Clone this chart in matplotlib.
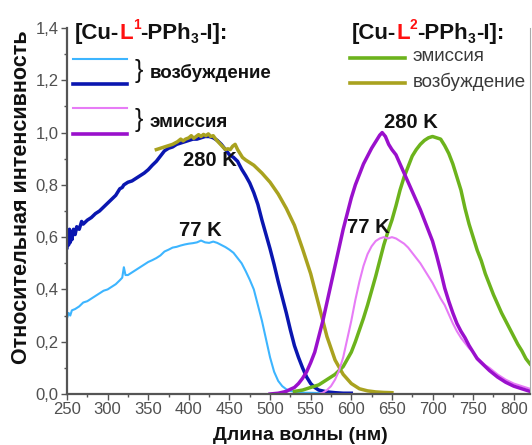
import matplotlib
matplotlib.use("Agg")
import matplotlib.pyplot as plt
from matplotlib.ticker import MultipleLocator, FuncFormatter
from matplotlib.transforms import IdentityTransform

plt.rcParams['font.family'] = ['Liberation Sans', 'DejaVu Sans']

# ---------------- data ----------------
# [Cu-L1-PPh3-I] excitation, 77 K
wl_exc77_L1 = [250, 252, 254, 256, 260, 265, 270, 275, 280, 285, 290, 295, 300, 305, 310, 315, 318,
               320, 322, 325, 330, 335, 340, 345, 350, 355, 360, 365, 370, 375, 380, 385, 390, 395,
               400, 405, 410, 415, 420, 425, 430, 435, 440, 445, 450, 455, 460, 465, 470, 475, 480,
               485, 490, 495, 500, 505, 510, 515, 520, 525, 530, 540, 560, 580, 600]
int_exc77_L1 = [0.29, 0.31, 0.30, 0.32, 0.325, 0.335, 0.35, 0.355, 0.365, 0.375, 0.385, 0.395, 0.40,
                0.41, 0.42, 0.435, 0.445, 0.485, 0.455, 0.455, 0.465, 0.475, 0.485, 0.495, 0.505,
                0.512, 0.52, 0.53, 0.545, 0.552, 0.56, 0.563, 0.568, 0.572, 0.575, 0.577, 0.58,
                0.587, 0.58, 0.578, 0.583, 0.578, 0.57, 0.562, 0.552, 0.54, 0.52, 0.50, 0.47, 0.437,
                0.40, 0.34, 0.28, 0.21, 0.14, 0.085, 0.05, 0.03, 0.018, 0.012, 0.008, 0.005, 0.004,
                0.003, 0.003]

# [Cu-L1-PPh3-I] excitation, 280 K
wl_exc280_L1 = [250, 251, 252, 253, 254, 255, 256, 258, 260, 262, 265, 268, 270, 275, 280, 285, 290,
                295, 300, 305, 310, 315, 318, 320, 325, 330, 335, 340, 345, 350, 355, 360, 365, 370,
                375, 380, 385, 390, 395, 400, 405, 410, 415, 420, 425, 430, 435, 440, 445, 450, 455,
                460, 465, 470, 475, 480, 485, 490, 495, 500, 505, 510, 515, 520, 525, 530, 535, 540,
                545, 550, 555, 560, 570, 580, 590, 600]
int_exc280_L1 = [0.56, 0.61, 0.57, 0.63, 0.58, 0.62, 0.59, 0.63, 0.61, 0.64, 0.63, 0.66, 0.65, 0.665,
                 0.675, 0.69, 0.70, 0.715, 0.73, 0.745, 0.76, 0.785, 0.79, 0.80, 0.81, 0.815, 0.825,
                 0.835, 0.845, 0.858, 0.875, 0.89, 0.91, 0.93, 0.94, 0.945, 0.955, 0.96, 0.965, 0.97,
                 0.975, 0.975, 0.98, 0.985, 0.985, 0.98, 0.97, 0.955, 0.935, 0.915, 0.905, 0.89,
                 0.86, 0.835, 0.807, 0.77, 0.725, 0.665, 0.61, 0.555, 0.495, 0.43, 0.37, 0.31, 0.245,
                 0.185, 0.14, 0.10, 0.065, 0.04, 0.025, 0.015, 0.008, 0.005, 0.003, 0.003]

# [Cu-L1-PPh3-I] emission, 77 K
wl_em77_L1 = [560, 565, 570, 575, 580, 585, 590, 595, 600, 605, 610, 615, 620, 625, 630, 635, 640,
              645, 650, 655, 660, 665, 670, 675, 680, 685, 690, 695, 700, 705, 710, 715, 720, 725,
              730, 735, 740, 745, 750, 755, 760, 765, 770, 780, 790, 800, 810, 820]
int_em77_L1 = [0.0, 0.005, 0.015, 0.03, 0.055, 0.09, 0.14, 0.21, 0.28, 0.36, 0.43, 0.49, 0.535,
               0.565, 0.585, 0.595, 0.60, 0.595, 0.60, 0.595, 0.585, 0.575, 0.56, 0.54, 0.52, 0.50,
               0.475, 0.45, 0.425, 0.395, 0.365, 0.34, 0.305, 0.27, 0.24, 0.215, 0.195, 0.175,
               0.16, 0.14, 0.125, 0.11, 0.10, 0.075, 0.055, 0.04, 0.03, 0.02]

# [Cu-L1-PPh3-I] emission, 280 K
wl_em280_L1 = [500, 510, 520, 525, 530, 535, 540, 545, 550, 555, 560, 565, 570, 575, 580, 585, 590,
               595, 600, 605, 610, 615, 620, 625, 630, 635, 638, 642, 646, 650, 655, 660, 665, 670,
               675, 680, 685, 690, 695, 700, 705, 710, 715, 720, 725, 730, 735, 740, 745, 750, 755,
               760, 765, 770, 780, 790, 800, 810, 820]
int_em280_L1 = [0.0, 0.003, 0.01, 0.018, 0.025, 0.04, 0.06, 0.085, 0.12, 0.16, 0.22, 0.28, 0.35,
                0.42, 0.49, 0.56, 0.63, 0.69, 0.75, 0.80, 0.84, 0.88, 0.91, 0.94, 0.965, 0.99, 1.0,
                0.985, 0.955, 0.935, 0.915, 0.88, 0.845, 0.81, 0.775, 0.74, 0.705, 0.665, 0.625,
                0.585, 0.53, 0.47, 0.405, 0.355, 0.31, 0.27, 0.24, 0.215, 0.185, 0.16, 0.135, 0.12,
                0.105, 0.09, 0.065, 0.045, 0.03, 0.02, 0.01]

# [Cu-L2-PPh3-I] excitation
wl_exc_L2 = [360, 365, 370, 375, 380, 383, 386, 390, 393, 396, 400, 403, 406, 409, 412, 415, 418,
             421, 424, 427, 430, 433, 436, 439, 442, 445, 448, 451, 454, 457, 460, 463, 466, 470,
             475, 480, 490, 500, 510, 520, 530, 540, 550, 560, 570, 580, 590, 600, 610, 620, 630,
             640, 650]
int_exc_L2 = [0.935, 0.94, 0.945, 0.95, 0.955, 0.96, 0.965, 0.975, 0.968, 0.975, 0.98, 0.988, 0.978,
              0.985, 0.992, 0.985, 0.993, 0.988, 0.995, 0.985, 0.988, 0.975, 0.965, 0.955, 0.945,
              0.935, 0.938, 0.935, 0.948, 0.955, 0.935, 0.92, 0.905, 0.895, 0.885, 0.875, 0.845,
              0.81, 0.765, 0.71, 0.645, 0.555, 0.46, 0.34, 0.22, 0.13, 0.075, 0.04, 0.02, 0.012,
              0.008, 0.006, 0.005]

# [Cu-L2-PPh3-I] emission
wl_em_L2 = [530, 540, 550, 560, 570, 580, 590, 600, 605, 610, 615, 620, 625, 630, 635, 640, 645,
            650, 655, 660, 665, 670, 675, 680, 685, 690, 695, 700, 705, 710, 715, 720, 725, 730,
            735, 740, 745, 750, 755, 760, 765, 770, 775, 780, 785, 790, 795, 800, 805, 810, 815, 820]
int_em_L2 = [0.01, 0.015, 0.025, 0.035, 0.055, 0.075, 0.105, 0.16, 0.20, 0.245, 0.29, 0.34, 0.395,
             0.45, 0.51, 0.57, 0.62, 0.665, 0.72, 0.78, 0.83, 0.87, 0.91, 0.935, 0.955, 0.97, 0.98,
             0.985, 0.98, 0.975, 0.95, 0.92, 0.88, 0.83, 0.78, 0.71, 0.65, 0.60, 0.55, 0.51, 0.46,
             0.42, 0.38, 0.345, 0.31, 0.28, 0.25, 0.22, 0.19, 0.165, 0.135, 0.115]

xticks = [250, 300, 350, 400, 450, 500, 550, 600, 650, 700, 750, 800]
yticks = [0.0, 0.2, 0.4, 0.6, 0.8, 1.0, 1.2, 1.4]

c_lblue = '#3db5ff'
c_dblue = '#0a16b0'
c_olive = '#a9a21f'
c_purple = '#9a10cc'
c_pink = '#e77cf6'
c_green = '#6cb31c'

# ---------------- figure ----------------
W, H = 532, 445
fig = plt.figure(figsize=(W / 100, H / 100), dpi=100)
ax = fig.add_axes([67 / W, 51 / H, 463 / W, 366 / H])

ax.plot(wl_exc77_L1, int_exc77_L1, color=c_lblue, lw=1.5)
ax.plot(wl_exc280_L1, int_exc280_L1, color=c_dblue, lw=2.5)
ax.plot(wl_exc_L2, int_exc_L2, color=c_olive, lw=2.5)
ax.plot(wl_em_L2, int_em_L2, color=c_green, lw=2.5)
ax.plot(wl_em77_L1, int_em77_L1, color=c_pink, lw=1.5)
ax.plot(wl_em280_L1, int_em280_L1, color=c_purple, lw=2.5)

ax.set_xlim(250, 820)
ax.set_ylim(0, 1.4)
ax.set_xticks(xticks)
ax.set_yticks(yticks)
ax.xaxis.set_minor_locator(MultipleLocator(25))
ax.yaxis.set_minor_locator(MultipleLocator(0.1))
ax.yaxis.set_major_formatter(FuncFormatter(lambda v, p: f"{v:.1f}".replace('.', ',')))

spc = '#555555'
ax.spines['top'].set_visible(False)
ax.spines['left'].set_color(spc)
ax.spines['bottom'].set_color(spc)
ax.spines['left'].set_linewidth(1.6)
ax.spines['bottom'].set_linewidth(1.6)
ax.spines['right'].set_color('#aaaaaa')
ax.spines['right'].set_linewidth(0.8)
ax.tick_params(which='major', direction='out', length=4, width=1, color=spc,
               labelcolor='#505050', labelsize=12, pad=2)
ax.tick_params(which='minor', direction='out', length=2.5, width=1, color=spc)
ax.tick_params(axis='y', which='both', right=False)

fig.text(0.040, 0.556, 'Относительная интенсивность', rotation=90, ha='center', va='center',
         fontsize=15.5, fontweight='bold', color='#111111')
fig.text(0.564, 0.022, 'Длина волны (нм)', ha='center', va='center',
         fontsize=14, fontweight='bold', color='#111111')

# annotations
ann = dict(ha='center', va='center', fontsize=14.5, fontweight='bold', color='#111111',
           transform=ax.transAxes)
ax.text(0.309, 0.637, '280 K', **ann)
ax.text(0.289, 0.448, '77 K', **ann)
ax.text(0.743, 0.743, '280 K', **ann)
ax.text(0.650, 0.454, '77 K', **ann)

# legend lines
for (x0, x1, y, c, lw) in [(0.013, 0.130, 0.915, c_lblue, 1.5), (0.013, 0.130, 0.847, c_dblue, 2.6),
                           (0.013, 0.130, 0.781, c_pink, 1.5), (0.013, 0.130, 0.710, c_purple, 2.6),
                           (0.611, 0.730, 0.918, c_green, 2.6), (0.611, 0.730, 0.850, c_olive, 2.6)]:
    ax.plot([x0, x1], [y, y], color=c, lw=lw, transform=ax.transAxes, clip_on=False)

ax.text(0.147, 0.882, '}', transform=ax.transAxes, ha='left', va='center', fontsize=18, color='#111111')
ax.text(0.179, 0.877, 'возбуждение', transform=ax.transAxes, ha='left', va='center',
        fontsize=13.5, fontweight='bold', color='#111111')
ax.text(0.147, 0.749, '}', transform=ax.transAxes, ha='left', va='center', fontsize=18, color='#111111')
ax.text(0.179, 0.743, 'эмиссия', transform=ax.transAxes, ha='left', va='center',
        fontsize=13.5, fontweight='bold', color='#111111')
ax.text(0.747, 0.921, 'эмиссия', transform=ax.transAxes, ha='left', va='center',
        fontsize=13.5, color='#3a3a3a')
ax.text(0.747, 0.852, 'возбуждение', transform=ax.transAxes, ha='left', va='center',
        fontsize=13.5, color='#3a3a3a')

# rich titles
fig.canvas.draw()
renderer = fig.canvas.get_renderer()


def rich(xpx, ypx, pieces, fs):
    x = xpx
    yb = H - ypx  # baseline in display coords
    for s, col, kind in pieces:
        size = fs if kind == 'n' else fs * 0.62
        dy = 0
        if kind == 'sup':
            dy = fs * 0.45 * 100 / 72
        elif kind == 'sub':
            dy = -fs * 0.18 * 100 / 72
        t = fig.text(x, yb + dy, s, transform=IdentityTransform(), ha='left', va='baseline',
                     fontsize=size, fontweight='bold', color=col)
        bb = t.get_window_extent(renderer)
        x = bb.x1


black = '#111111'
red = '#ff1010'
rich(75, 39, [('[Cu-', black, 'n'), ('L', red, 'n'), ('1', red, 'sup'), ('-PPh', black, 'n'),
              ('3', black, 'sub'), ('-I]:', black, 'n')], 16)
rich(352, 39, [('[Cu-', black, 'n'), ('L', red, 'n'), ('2', red, 'sup'), ('-PPh', black, 'n'),
               ('3', black, 'sub'), ('-I]:', black, 'n')], 16)

fig.savefig('out.png', dpi=100)
